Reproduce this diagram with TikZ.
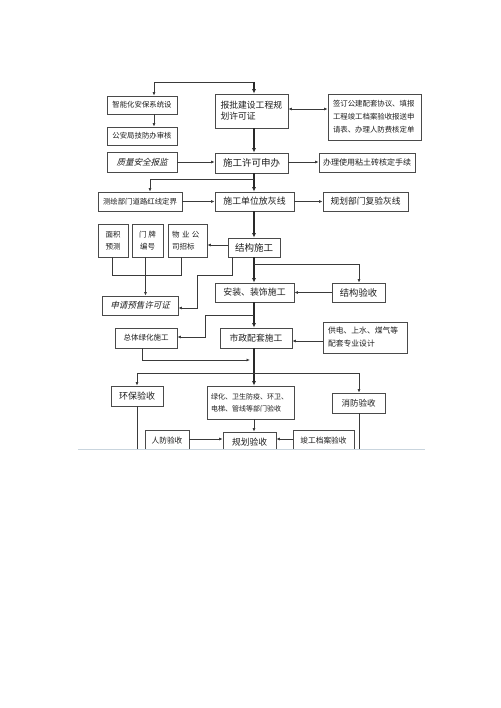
\documentclass[tikz,border=0pt]{standalone}
\usepackage{fontspec}
\setmainfont{Noto Sans CJK SC}
\newfontfamily\cjkit[FakeSlant=0.25]{Noto Sans CJK SC}
\usetikzlibrary{arrows.meta}
\definecolor{boxc}{HTML}{4A4A4A}
\definecolor{linec}{HTML}{3A3A3A}
\definecolor{txt}{HTML}{1E1E1E}
\definecolor{cutc}{HTML}{C9D5DE}
\begin{document}
\begin{tikzpicture}[x=1pt,y=-1pt,
  box/.style={draw=boxc, line width=0.8pt, inner sep=0pt, text=txt, align=center},
  wh/.style 2 args={minimum width=#1pt, minimum height=#2pt},
  fs/.style={font=\fontsize{#1}{#1}\selectfont},
  fsl/.style 2 args={font=\fontsize{#1}{#2}\selectfont},
  fsi/.style={font={\cjkit\fontsize{#1}{#1}\selectfont}},
  ln/.style={draw=linec, line width=0.8pt, -{Latex[length=3.5pt,width=3pt]}},
  nl/.style={draw=linec, line width=0.8pt},
  thk/.style={draw=linec!70!black, line width=1.8pt, -{Latex[length=4.5pt,width=4pt]}}]
\useasboundingbox (0,0) rectangle (500,708);
\fill[white] (0,0) rectangle (500,708);
\begin{scope}
\clip (0,0) rectangle (500,449);
% nodes
\node[box, wh={70}{18}, fs=7.4] (n1) at (142,105) {智能化安保系统设};
\node[box, wh={70}{18}, fs=7.4] (n2) at (142,136) {公安局技防办审核};
\node[box, wh={73}{34}, fsl={8.8}{11}, align=left, text width=62pt] (n3) at (251.5,111) {报批建设工程规\\划许可证};
\node[box, wh={93}{46}, fsl={7.4}{13}, align=left, text width=83pt] (n4) at (374.5,117) {签订公建配套协议、填报\\工程竣工档案验收报送申\\请表、办理人防费核定单};
\node[box, wh={70}{20}, fsi=8.5] (n5) at (142,162) {质量安全报监};
\node[box, wh={73}{20}, fs=9.5] (n6) at (251.5,163) {施工许可申办};
\node[box, wh={96}{19}, fs=8] (n7) at (367,162.5) {办理使用粘土砖核定手续};
\node[box, wh={84}{19}, fs=7.4] (n8) at (140,201.5) {测绘部门道路红线定界};
\node[box, wh={79}{19}, fs=8.9] (n9) at (254.5,201.5) {施工单位放灰线};
\node[box, wh={85}{19}, fs=8.75] (n10) at (365.5,201.5) {规划部门复验灰线};
\node[box, wh={30}{33}, fsl={7.5}{12}] (n11) at (113,240.5) {面积\\预测};
\node[box, wh={31}{33}, fsl={7.5}{12}] (n12) at (147.5,240.5) {门 牌\\编号};
\node[box, wh={39}{33}, fsl={7.5}{12}, align=left, text width=31pt] (n13) at (187.5,240.5) {物 业 公\\司招标};
\node[box, wh={52}{19}, fs=9.5] (n14) at (254,247.5) {结构施工};
\node[box, wh={53}{19}, fs=9.3] (n15) at (358.5,292.5) {结构验收};
\node[box, wh={79}{19}, fs=8.9] (n16) at (254.5,292.5) {安装、装饰施工};
\node[box, wh={76}{19}, fsi=8.5] (n17) at (140,305.5) {申请预售许可证};
\node[box, wh={62}{20}, fs=7.5] (n18) at (146,338) {总体绿化施工};
\node[box, wh={72}{20}, fs=8.8] (n19) at (256,338) {市政配套施工};
\node[box, wh={84}{31}, fsl={7.8}{13}, align=left, text width=74pt] (n20) at (365,337.5) {供电、上水、煤气等\\配套专业设计};
\node[box, wh={52}{20}, fs=9] (n21) at (137,396) {环保验收};
\node[box, wh={87}{33}, fsl={7}{12}, align=left, text width=79pt] (n22) at (250.5,402.5) {绿化、卫生防疫、环卫、\\电梯、管线等部门验收};
\node[box, wh={53}{20}, fs=8.5] (n23) at (358.5,403) {消防验收};
\node[box, wh={44}{22}, fs=7.7] (n24) at (167,441) {人防验收};
\node[box, wh={53}{20}, fs=8.75] (n25) at (249.5,442) {规划验收};
\node[box, wh={61}{22}, fs=7.7] (n26) at (323.5,441) {竣工档案验收};
% coordinates
\coordinate (m) at (254,0);
\coordinate (tl) at (154,82);
\coordinate (tr) at (254,82);
\coordinate (e21) at (137,452);
\coordinate (e23) at (359,452);
% connectors
\draw[ln] (tr) -- (tl) -- (n1.north -| tl);
\draw[thk] (tr) -- (n3.north -| m);
\draw[ln] (n1.south -| tl) -- (n2.north -| tl);
\draw[ln, {Latex[length=3.5pt,width=3pt]}-{Latex[length=3.5pt,width=3pt]}] (n3.east |- 0,109) -- (n4.west |- 0,109);
\draw[ln] (n5.east |- 0,162) -- (n6.west |- 0,162);
\draw[ln] (n6.east |- 0,162) -- (n7.west |- 0,162);
\draw[thk] (n3.south -| m) -- (n6.north -| m);
\draw[thk] (n6.south -| m) -- (n9.north -| m);
\draw[ln] (m |- 0,179) -- (150,179) -- (n8.north -| 150,0);
\draw[ln] (n8.east |- 0,201.5) -- (n9.west |- 0,201.5);
\draw[ln] (n9.east |- 0,201.5) -- (n10.west |- 0,201.5);
\draw[thk] (n9.south -| m) -- (n14.north -| m);
\draw[ln] (n14.west |- 0,245) -- (n13.east |- 0,245);
\draw[nl] (n11.south -| 112,0) -- (112,275) -- (181,275) -- (n13.south -| 181,0);
\draw[ln] (n12.south -| 145.5,0) -- (n17.north -| 145.5,0);
\draw[ln] (n14.south -| 232,0) -- (232,275) -- (197,275) -- (197,308) -- (n17.east |- 0,308);
\draw[thk] (n14.south -| m) -- (n16.north -| m);
\draw[ln] (m |- 0,264) -- (359,264) -- (n15.north -| 359,0);
\draw[ln] (n15.west |- 0,292.5) -- (n16.east |- 0,292.5);
\draw[thk] (n16.south -| m) -- (n19.north -| m);
\draw[ln] (m |- 0,315) -- (205,315) -- (205,337) -- (n18.east |- 0,337);
\draw[ln] (n20.west |- 0,341) -- (n19.east |- 0,341);
\draw[ln] (n18.south -| 142,0) -- (142,360) -- (250,360);
\draw[thk] (n19.south -| m) -- (n22.north -| m);
\draw[ln] (m |- 0,373) -- (137,373) -- (n21.north -| 137,0);
\draw[ln] (m |- 0,373) -- (359,373) -- (n23.north -| 359,0);
\draw[ln] (n22.south -| m) -- (n25.north -| m);
\draw[ln] (n24.east |- 0,439) -- (n25.west |- 0,439);
\draw[ln] (n26.west |- 0,439) -- (n25.east |- 0,439);
\draw[nl] (n21.south -| e21) -- (e21);
\draw[nl] (n23.south -| e23) -- (e23);
\end{scope}
\draw[cutc, line width=1pt] (78,449.5) -- (425,449.5);
\end{tikzpicture}
\end{document}
